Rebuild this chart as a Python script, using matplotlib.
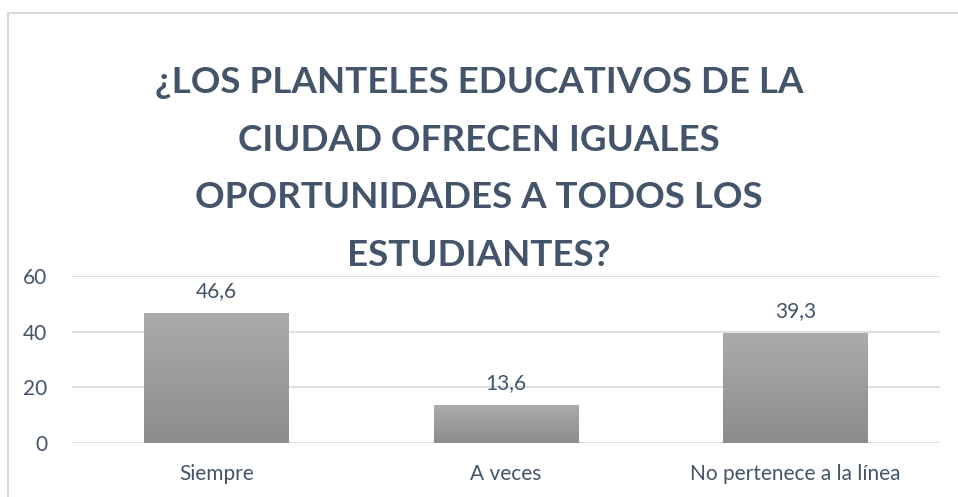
import numpy as np
import matplotlib.pyplot as plt
from matplotlib.patches import Rectangle
from matplotlib.colors import LinearSegmentedColormap

categories = ["Siempre", "A veces", "No pertenece a la línea"]
values = [46.6, 13.6, 39.3]
value_labels = ["46,6", "13,6", "39,3"]
yticks = [0, 20, 40, 60]
title = "¿LOS PLANTELES EDUCATIVOS DE LA\nCIUDAD OFRECEN IGUALES\nOPORTUNIDADES A TODOS LOS\nESTUDIANTES?"

plt.rcParams["font.family"] = ["Lato", "DejaVu Sans"]
text_color = "#44546a"

fig = plt.figure(figsize=(9.58, 4.97), dpi=100)

# light frame of the chart area (only left and top edges are visible)
fig.patches.append(Rectangle((8 / 958, -0.1), 1.2, 1.1 - 13 / 497, transform=fig.transFigure,
                             fill=False, edgecolor="#d9d9d9", linewidth=1.5))

ax = fig.add_axes([72 / 958, 54 / 497, (940 - 72) / 958, (443 - 276) / 497])
x = np.arange(len(categories))
bars = ax.bar(x, values, width=0.5, color="none", zorder=2)

# vertical grey gradient inside each bar
grad = np.linspace(0, 1, 256).reshape(-1, 1)
cmap = LinearSegmentedColormap.from_list("g", ["#8c8c8c", "#ababab"])
for b in bars:
    x0, w, h = b.get_x(), b.get_width(), b.get_height()
    ax.imshow(grad, cmap=cmap, origin="lower", aspect="auto",
              extent=(x0, x0 + w, 0, h), zorder=2)

for xi, v, lab in zip(x, values, value_labels):
    ax.annotate(lab, (xi, v), xytext=(0, 9), textcoords="offset points",
                ha="center", va="bottom", fontsize=15, color=text_color)

ax.set_xlim(-0.5, len(categories) - 0.5)
ax.set_ylim(0, 60)
ax.set_yticks(yticks)
ax.set_xticks(x)
ax.set_xticklabels(categories, fontsize=15.5)
ax.tick_params(axis="both", length=0, labelsize=15, colors=text_color)
ax.tick_params(axis="y", pad=18)
ax.tick_params(axis="x", pad=15)
ax.yaxis.grid(True, color="#d9d9d9", linewidth=1.2, zorder=0)
for s in ax.spines.values():
    s.set_visible(False)

fig.text(0.5, 0.66, title, ha="center", va="center", fontsize=26.5, fontweight="bold",
         color=text_color, linespacing=1.92)

fig.savefig("out.png", dpi=100)
